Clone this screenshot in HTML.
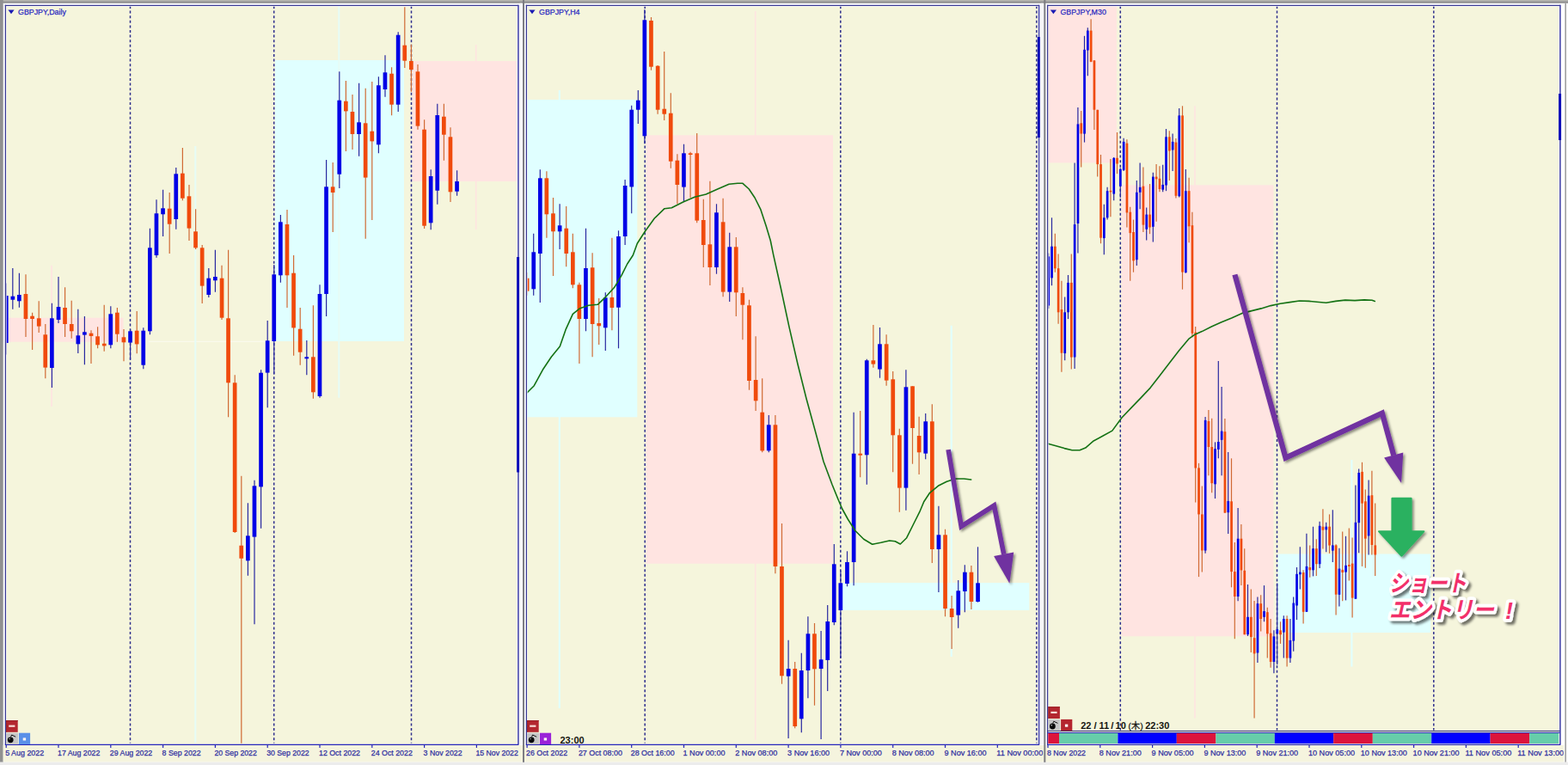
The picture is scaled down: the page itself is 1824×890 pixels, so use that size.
<!DOCTYPE html>
<html><head><meta charset="utf-8"><title>GBPJPY charts</title>
<style>
html,body{margin:0;padding:0;background:#fff;}
body{width:1824px;height:890px;overflow:hidden;}
svg{display:block;font-family:"Liberation Sans",sans-serif;}
</style></head><body>
<svg width="1824" height="890" viewBox="0 0 1824 890">
<rect x="0.0" y="0.0" width="1824.0" height="890.0" fill="#ffffff" />
<rect x="0.0" y="0.0" width="1824.0" height="1.3" fill="#b4b4ac" />
<rect x="0.0" y="1.3" width="1824.0" height="2.4" fill="#8c8c8c" />
<rect x="0.0" y="0.0" width="3.7" height="890.0" fill="#909090" />
<rect x="1820.4" y="3.7" width="1.6" height="886.3" fill="#a0a0a0" />
<rect x="0.0" y="886.5" width="1824.0" height="3.5" fill="#ececec" />
<rect x="3.7" y="867.0" width="1815.7" height="19.4" fill="#f5f4de" />
<rect x="604.4" y="3.7" width="3.0" height="862.7" fill="#f4f4f6" />
<rect x="608.0" y="0.0" width="2.0" height="886.8" fill="#7c7c82" />
<rect x="1210.7" y="3.7" width="3.0" height="862.7" fill="#f4f4f6" />
<rect x="1214.3" y="0.0" width="2.0" height="886.8" fill="#7c7c82" />
<rect x="6.4" y="6.4" width="596.2" height="860.6" fill="#f5f5dc" />
<rect x="612.4" y="6.4" width="595.9" height="860.6" fill="#f5f5dc" />
<rect x="1218.6" y="6.4" width="596.0" height="860.6" fill="#f5f5dc" />
<rect x="7.0" y="369.7" width="136.5" height="28.0" fill="#ffe4e1" />
<line x1="60.0" y1="308.7" x2="60.0" y2="473.0" stroke="#ffe4e1" stroke-width="1.6" />
<line x1="173.0" y1="397.3" x2="320.0" y2="397.3" stroke="#f9f9ec" stroke-width="1.2" />
<line x1="227.3" y1="170.0" x2="227.3" y2="864.0" stroke="#e6fcf6" stroke-width="2" />
<rect x="320.0" y="70.0" width="150.0" height="327.0" fill="#e0ffff" />
<line x1="394.3" y1="7.0" x2="394.3" y2="462.7" stroke="#e6fcf6" stroke-width="2" />
<rect x="479.5" y="71.0" width="122.5" height="140.0" fill="#ffe4e1" />
<line x1="553.7" y1="52.0" x2="553.7" y2="267.0" stroke="#ffe4e1" stroke-width="1.6" />
<rect x="613.0" y="116.0" width="128.3" height="369.3" fill="#e0ffff" />
<line x1="650.8" y1="105.0" x2="650.8" y2="824.0" stroke="#e0ffff" stroke-width="2" />
<rect x="751.3" y="157.3" width="217.7" height="498.4" fill="#ffe4e1" />
<line x1="878.7" y1="13.0" x2="878.7" y2="860.7" stroke="#ffe4e1" stroke-width="1.6" />
<rect x="979.7" y="678.0" width="217.6" height="32.0" fill="#e0ffff" />
<line x1="1106.7" y1="378.7" x2="1106.7" y2="764.0" stroke="#e0ffff" stroke-width="2" />
<rect x="1219.0" y="7.0" width="80.0" height="182.4" fill="#ffe4e1" />
<rect x="1304.6" y="215.3" width="176.8" height="525.0" fill="#ffe4e1" />
<line x1="1390.0" y1="123.3" x2="1390.0" y2="835.6" stroke="#ffe4e1" stroke-width="1.6" />
<rect x="1486.6" y="644.5" width="177.7" height="91.5" fill="#e0ffff" />
<line x1="1572.4" y1="535.0" x2="1572.4" y2="775.6" stroke="#e0ffff" stroke-width="2" />
<line x1="151.5" y1="7.0" x2="151.5" y2="864.5" stroke="#2c2c8c" stroke-width="1.5" stroke-dasharray="3.0 2.6"/>
<line x1="318.7" y1="7.0" x2="318.7" y2="864.5" stroke="#2c2c8c" stroke-width="1.5" stroke-dasharray="3.0 2.6"/>
<line x1="478.5" y1="7.0" x2="478.5" y2="864.5" stroke="#2c2c8c" stroke-width="1.5" stroke-dasharray="3.0 2.6"/>
<line x1="750.2" y1="7.0" x2="750.2" y2="864.5" stroke="#2c2c8c" stroke-width="1.5" stroke-dasharray="3.0 2.6"/>
<line x1="977.8" y1="7.0" x2="977.8" y2="864.5" stroke="#2c2c8c" stroke-width="1.5" stroke-dasharray="3.0 2.6"/>
<line x1="1205.8" y1="7.0" x2="1205.8" y2="864.5" stroke="#2c2c8c" stroke-width="1.5" stroke-dasharray="3.0 2.6"/>
<line x1="1303.3" y1="7.0" x2="1303.3" y2="849.5" stroke="#2c2c8c" stroke-width="1.5" stroke-dasharray="3.0 2.6"/>
<line x1="1485.5" y1="7.0" x2="1485.5" y2="849.5" stroke="#2c2c8c" stroke-width="1.5" stroke-dasharray="3.0 2.6"/>
<line x1="1667.8" y1="7.0" x2="1667.8" y2="849.5" stroke="#2c2c8c" stroke-width="1.5" stroke-dasharray="3.0 2.6"/>
<g>
<line x1="7.2" y1="329.4" x2="7.2" y2="412.6" stroke="#2828a0" stroke-width="1.2" />
<rect x="6.0" y="344.0" width="3.6" height="55.0" fill="#0000e6" />
<line x1="14.8" y1="312.0" x2="14.8" y2="359.7" stroke="#2828a0" stroke-width="1.2" />
<rect x="12.5" y="344.7" width="4.7" height="4.0" fill="#0000e6" />
<line x1="22.4" y1="317.7" x2="22.4" y2="357.7" stroke="#2828a0" stroke-width="1.2" />
<rect x="20.0" y="343.0" width="4.7" height="7.3" fill="#0000e6" />
<line x1="30.0" y1="319.3" x2="30.0" y2="392.0" stroke="#d06a34" stroke-width="1.2" />
<rect x="27.6" y="342.0" width="4.7" height="29.0" fill="#f04a0c" />
<line x1="37.6" y1="363.7" x2="37.6" y2="407.0" stroke="#d06a34" stroke-width="1.2" />
<rect x="35.2" y="367.7" width="4.7" height="3.3" fill="#f04a0c" />
<line x1="45.2" y1="350.3" x2="45.2" y2="387.0" stroke="#d06a34" stroke-width="1.2" />
<rect x="42.9" y="370.3" width="4.7" height="9.3" fill="#f04a0c" />
<line x1="52.8" y1="377.0" x2="52.8" y2="440.3" stroke="#d06a34" stroke-width="1.2" />
<rect x="50.4" y="389.3" width="4.7" height="38.3" fill="#f04a0c" />
<line x1="60.4" y1="352.7" x2="60.4" y2="451.0" stroke="#2828a0" stroke-width="1.2" />
<rect x="58.0" y="370.3" width="4.7" height="57.7" fill="#0000e6" />
<line x1="68.0" y1="322.0" x2="68.0" y2="376.0" stroke="#2828a0" stroke-width="1.2" />
<rect x="65.7" y="357.0" width="4.7" height="15.0" fill="#0000e6" />
<line x1="75.6" y1="334.3" x2="75.6" y2="392.0" stroke="#d06a34" stroke-width="1.2" />
<rect x="73.2" y="358.0" width="4.7" height="19.0" fill="#f04a0c" />
<line x1="83.2" y1="349.7" x2="83.2" y2="393.7" stroke="#d06a34" stroke-width="1.2" />
<rect x="80.9" y="377.0" width="4.7" height="8.3" fill="#f04a0c" />
<line x1="90.8" y1="359.7" x2="90.8" y2="411.0" stroke="#2828a0" stroke-width="1.2" />
<rect x="88.5" y="390.3" width="4.7" height="10.0" fill="#0000e6" />
<line x1="98.4" y1="368.0" x2="98.4" y2="424.3" stroke="#2828a0" stroke-width="1.2" />
<rect x="96.0" y="386.3" width="4.7" height="3.3" fill="#0000e6" />
<line x1="106.0" y1="384.3" x2="106.0" y2="423.0" stroke="#d06a34" stroke-width="1.2" />
<rect x="103.7" y="387.7" width="4.7" height="3.3" fill="#f04a0c" />
<line x1="113.6" y1="380.3" x2="113.6" y2="405.3" stroke="#d06a34" stroke-width="1.2" />
<rect x="111.2" y="391.3" width="4.7" height="10.0" fill="#f04a0c" />
<line x1="121.2" y1="354.7" x2="121.2" y2="408.7" stroke="#d06a34" stroke-width="1.2" />
<rect x="118.9" y="399.7" width="4.7" height="2.7" fill="#f04a0c" />
<line x1="128.8" y1="356.3" x2="128.8" y2="405.3" stroke="#2828a0" stroke-width="1.2" />
<rect x="126.4" y="365.3" width="4.7" height="36.0" fill="#0000e6" />
<line x1="136.4" y1="358.0" x2="136.4" y2="397.7" stroke="#d06a34" stroke-width="1.2" />
<rect x="134.0" y="363.7" width="4.7" height="25.0" fill="#f04a0c" />
<line x1="144.0" y1="383.0" x2="144.0" y2="420.3" stroke="#d06a34" stroke-width="1.2" />
<rect x="141.6" y="392.3" width="4.7" height="6.0" fill="#f04a0c" />
<line x1="151.6" y1="383.0" x2="151.6" y2="418.7" stroke="#2828a0" stroke-width="1.2" />
<rect x="149.2" y="385.3" width="4.7" height="13.3" fill="#0000e6" />
<line x1="159.2" y1="362.0" x2="159.2" y2="411.3" stroke="#d06a34" stroke-width="1.2" />
<rect x="156.8" y="384.7" width="4.7" height="15.7" fill="#f04a0c" />
<line x1="166.8" y1="381.3" x2="166.8" y2="429.3" stroke="#2828a0" stroke-width="1.2" />
<rect x="164.4" y="384.7" width="4.7" height="40.0" fill="#0000e6" />
<line x1="174.4" y1="265.7" x2="174.4" y2="389.3" stroke="#2828a0" stroke-width="1.2" />
<rect x="172.0" y="288.3" width="4.7" height="97.0" fill="#0000e6" />
<line x1="182.0" y1="232.3" x2="182.0" y2="299.7" stroke="#2828a0" stroke-width="1.2" />
<rect x="179.6" y="248.3" width="4.7" height="48.7" fill="#0000e6" />
<line x1="189.6" y1="220.7" x2="189.6" y2="275.0" stroke="#2828a0" stroke-width="1.2" />
<rect x="187.2" y="242.3" width="4.7" height="7.0" fill="#0000e6" />
<line x1="197.2" y1="224.0" x2="197.2" y2="295.0" stroke="#d06a34" stroke-width="1.2" />
<rect x="194.8" y="242.7" width="4.7" height="18.0" fill="#f04a0c" />
<line x1="204.8" y1="195.0" x2="204.8" y2="266.7" stroke="#2828a0" stroke-width="1.2" />
<rect x="202.4" y="202.3" width="4.7" height="52.7" fill="#0000e6" />
<line x1="212.4" y1="172.0" x2="212.4" y2="233.3" stroke="#d06a34" stroke-width="1.2" />
<rect x="210.0" y="201.7" width="4.7" height="29.0" fill="#f04a0c" />
<line x1="220.0" y1="215.0" x2="220.0" y2="280.0" stroke="#d06a34" stroke-width="1.2" />
<rect x="217.6" y="228.3" width="4.7" height="37.3" fill="#f04a0c" />
<line x1="227.6" y1="243.3" x2="227.6" y2="290.0" stroke="#d06a34" stroke-width="1.2" />
<rect x="225.2" y="269.3" width="4.7" height="19.0" fill="#f04a0c" />
<line x1="235.2" y1="285.0" x2="235.2" y2="353.0" stroke="#d06a34" stroke-width="1.2" />
<rect x="232.8" y="288.3" width="4.7" height="44.3" fill="#f04a0c" />
<line x1="242.8" y1="312.0" x2="242.8" y2="346.0" stroke="#2828a0" stroke-width="1.2" />
<rect x="240.4" y="323.7" width="4.7" height="19.3" fill="#0000e6" />
<line x1="250.4" y1="290.7" x2="250.4" y2="339.7" stroke="#2828a0" stroke-width="1.2" />
<rect x="248.0" y="322.0" width="4.7" height="4.3" fill="#0000e6" />
<line x1="258.0" y1="308.7" x2="258.0" y2="372.0" stroke="#d06a34" stroke-width="1.2" />
<rect x="255.7" y="323.7" width="4.7" height="46.0" fill="#f04a0c" />
<line x1="265.6" y1="290.7" x2="265.6" y2="485.3" stroke="#d06a34" stroke-width="1.2" />
<rect x="263.2" y="370.3" width="4.7" height="75.0" fill="#f04a0c" />
<line x1="273.2" y1="436.3" x2="273.2" y2="620.0" stroke="#d06a34" stroke-width="1.2" />
<rect x="270.8" y="445.3" width="4.7" height="173.7" fill="#f04a0c" />
<line x1="280.8" y1="553.7" x2="280.8" y2="864.7" stroke="#d06a34" stroke-width="1.2" />
<rect x="278.4" y="634.7" width="4.7" height="15.0" fill="#f04a0c" />
<line x1="288.4" y1="585.3" x2="288.4" y2="669.7" stroke="#2828a0" stroke-width="1.2" />
<rect x="286.0" y="623.3" width="4.7" height="29.0" fill="#0000e6" />
<line x1="296.0" y1="558.7" x2="296.0" y2="726.3" stroke="#2828a0" stroke-width="1.2" />
<rect x="293.6" y="565.3" width="4.7" height="59.3" fill="#0000e6" />
<line x1="303.6" y1="430.3" x2="303.6" y2="614.7" stroke="#2828a0" stroke-width="1.2" />
<rect x="301.2" y="433.7" width="4.7" height="132.7" fill="#0000e6" />
<line x1="311.2" y1="373.0" x2="311.2" y2="474.3" stroke="#2828a0" stroke-width="1.2" />
<rect x="308.8" y="396.3" width="4.7" height="37.3" fill="#0000e6" />
<line x1="318.8" y1="308.0" x2="318.8" y2="435.3" stroke="#2828a0" stroke-width="1.2" />
<rect x="316.4" y="319.3" width="4.7" height="77.7" fill="#0000e6" />
<line x1="326.4" y1="250.0" x2="326.4" y2="328.7" stroke="#2828a0" stroke-width="1.2" />
<rect x="324.0" y="258.3" width="4.7" height="62.0" fill="#0000e6" />
<line x1="334.0" y1="244.0" x2="334.0" y2="358.0" stroke="#d06a34" stroke-width="1.2" />
<rect x="331.6" y="261.0" width="4.7" height="59.3" fill="#f04a0c" />
<line x1="341.6" y1="297.0" x2="341.6" y2="413.7" stroke="#d06a34" stroke-width="1.2" />
<rect x="339.2" y="317.7" width="4.7" height="63.7" fill="#f04a0c" />
<line x1="349.2" y1="358.0" x2="349.2" y2="424.7" stroke="#d06a34" stroke-width="1.2" />
<rect x="346.8" y="382.7" width="4.7" height="27.0" fill="#f04a0c" />
<line x1="356.8" y1="396.0" x2="356.8" y2="436.3" stroke="#2828a0" stroke-width="1.2" />
<rect x="354.4" y="415.3" width="4.7" height="2.0" fill="#0000e6" />
<line x1="364.4" y1="355.3" x2="364.4" y2="463.7" stroke="#d06a34" stroke-width="1.2" />
<rect x="362.0" y="415.3" width="4.7" height="41.0" fill="#f04a0c" />
<line x1="372.0" y1="331.3" x2="372.0" y2="462.7" stroke="#2828a0" stroke-width="1.2" />
<rect x="369.6" y="342.0" width="4.7" height="119.0" fill="#0000e6" />
<line x1="379.6" y1="186.0" x2="379.6" y2="368.0" stroke="#2828a0" stroke-width="1.2" />
<rect x="377.2" y="217.3" width="4.7" height="124.7" fill="#0000e6" />
<line x1="387.2" y1="189.0" x2="387.2" y2="270.0" stroke="#d06a34" stroke-width="1.2" />
<rect x="384.8" y="217.3" width="4.7" height="6.7" fill="#f04a0c" />
<line x1="394.8" y1="83.3" x2="394.8" y2="219.0" stroke="#2828a0" stroke-width="1.2" />
<rect x="392.4" y="116.7" width="4.7" height="86.0" fill="#0000e6" />
<line x1="402.4" y1="94.0" x2="402.4" y2="176.0" stroke="#d06a34" stroke-width="1.2" />
<rect x="400.0" y="117.7" width="4.7" height="11.7" fill="#f04a0c" />
<line x1="410.0" y1="110.0" x2="410.0" y2="174.0" stroke="#d06a34" stroke-width="1.2" />
<rect x="407.6" y="130.0" width="4.7" height="26.0" fill="#f04a0c" />
<line x1="417.6" y1="96.7" x2="417.6" y2="181.7" stroke="#2828a0" stroke-width="1.2" />
<rect x="415.2" y="142.3" width="4.7" height="13.7" fill="#0000e6" />
<line x1="425.2" y1="102.7" x2="425.2" y2="277.7" stroke="#d06a34" stroke-width="1.2" />
<rect x="422.8" y="143.3" width="4.7" height="63.3" fill="#f04a0c" />
<line x1="432.8" y1="95.0" x2="432.8" y2="256.0" stroke="#d06a34" stroke-width="1.2" />
<rect x="430.4" y="152.7" width="4.7" height="11.7" fill="#f04a0c" />
<line x1="440.4" y1="89.3" x2="440.4" y2="178.3" stroke="#2828a0" stroke-width="1.2" />
<rect x="438.0" y="99.3" width="4.7" height="69.0" fill="#0000e6" />
<line x1="448.0" y1="64.3" x2="448.0" y2="112.7" stroke="#2828a0" stroke-width="1.2" />
<rect x="445.6" y="84.3" width="4.7" height="19.7" fill="#0000e6" />
<line x1="455.6" y1="78.3" x2="455.6" y2="134.3" stroke="#d06a34" stroke-width="1.2" />
<rect x="453.2" y="85.7" width="4.7" height="36.0" fill="#f04a0c" />
<line x1="463.2" y1="37.3" x2="463.2" y2="130.0" stroke="#2828a0" stroke-width="1.2" />
<rect x="460.8" y="40.7" width="4.7" height="81.0" fill="#0000e6" />
<line x1="470.8" y1="8.3" x2="470.8" y2="79.0" stroke="#d06a34" stroke-width="1.2" />
<rect x="468.4" y="52.7" width="4.7" height="18.0" fill="#f04a0c" />
<line x1="478.4" y1="51.7" x2="478.4" y2="106.7" stroke="#d06a34" stroke-width="1.2" />
<rect x="476.0" y="71.0" width="4.7" height="10.0" fill="#f04a0c" />
<line x1="486.0" y1="75.0" x2="486.0" y2="150.7" stroke="#d06a34" stroke-width="1.2" />
<rect x="483.6" y="83.3" width="4.7" height="63.3" fill="#f04a0c" />
<line x1="493.6" y1="139.3" x2="493.6" y2="266.0" stroke="#d06a34" stroke-width="1.2" />
<rect x="491.2" y="150.7" width="4.7" height="112.0" fill="#f04a0c" />
<line x1="501.2" y1="197.3" x2="501.2" y2="267.3" stroke="#2828a0" stroke-width="1.2" />
<rect x="498.8" y="205.0" width="4.7" height="54.3" fill="#0000e6" />
<line x1="508.8" y1="120.7" x2="508.8" y2="237.7" stroke="#2828a0" stroke-width="1.2" />
<rect x="506.4" y="134.0" width="4.7" height="87.7" fill="#0000e6" />
<line x1="516.4" y1="120.7" x2="516.4" y2="186.7" stroke="#d06a34" stroke-width="1.2" />
<rect x="514.0" y="135.7" width="4.7" height="21.0" fill="#f04a0c" />
<line x1="524.0" y1="148.3" x2="524.0" y2="235.0" stroke="#d06a34" stroke-width="1.2" />
<rect x="521.6" y="159.3" width="4.7" height="64.0" fill="#f04a0c" />
<line x1="531.6" y1="198.3" x2="531.6" y2="227.7" stroke="#2828a0" stroke-width="1.2" />
<rect x="529.2" y="211.0" width="4.7" height="11.7" fill="#0000e6" />
</g>
<g>
<line x1="613.1" y1="317.0" x2="613.1" y2="343.7" stroke="#d06a34" stroke-width="1.2" />
<rect x="612.0" y="323.7" width="3.5" height="15.0" fill="#f04a0c" />
<line x1="620.7" y1="271.7" x2="620.7" y2="343.7" stroke="#2828a0" stroke-width="1.2" />
<rect x="618.4" y="293.3" width="4.7" height="43.0" fill="#0000e6" />
<line x1="628.3" y1="197.3" x2="628.3" y2="352.0" stroke="#2828a0" stroke-width="1.2" />
<rect x="626.0" y="207.3" width="4.7" height="87.7" fill="#0000e6" />
<line x1="635.9" y1="199.3" x2="635.9" y2="276.7" stroke="#d06a34" stroke-width="1.2" />
<rect x="633.5" y="207.3" width="4.7" height="42.0" fill="#f04a0c" />
<line x1="643.5" y1="230.0" x2="643.5" y2="321.0" stroke="#d06a34" stroke-width="1.2" />
<rect x="641.1" y="248.3" width="4.7" height="21.0" fill="#f04a0c" />
<line x1="651.1" y1="237.3" x2="651.1" y2="290.0" stroke="#2828a0" stroke-width="1.2" />
<rect x="648.8" y="262.3" width="4.7" height="7.0" fill="#0000e6" />
<line x1="658.7" y1="240.0" x2="658.7" y2="310.3" stroke="#d06a34" stroke-width="1.2" />
<rect x="656.4" y="265.7" width="4.7" height="29.3" fill="#f04a0c" />
<line x1="666.3" y1="271.7" x2="666.3" y2="335.3" stroke="#d06a34" stroke-width="1.2" />
<rect x="664.0" y="293.3" width="4.7" height="38.0" fill="#f04a0c" />
<line x1="673.9" y1="328.7" x2="673.9" y2="423.0" stroke="#d06a34" stroke-width="1.2" />
<rect x="671.5" y="331.3" width="4.7" height="39.7" fill="#f04a0c" />
<line x1="681.5" y1="265.7" x2="681.5" y2="385.3" stroke="#2828a0" stroke-width="1.2" />
<rect x="679.1" y="312.0" width="4.7" height="59.0" fill="#0000e6" />
<line x1="689.1" y1="294.3" x2="689.1" y2="415.3" stroke="#d06a34" stroke-width="1.2" />
<rect x="686.8" y="311.3" width="4.7" height="65.7" fill="#f04a0c" />
<line x1="696.7" y1="347.0" x2="696.7" y2="401.0" stroke="#d06a34" stroke-width="1.2" />
<rect x="694.4" y="376.0" width="4.7" height="3.3" fill="#f04a0c" />
<line x1="704.3" y1="340.3" x2="704.3" y2="408.0" stroke="#2828a0" stroke-width="1.2" />
<rect x="701.9" y="346.3" width="4.7" height="35.0" fill="#0000e6" />
<line x1="711.9" y1="276.7" x2="711.9" y2="384.3" stroke="#d06a34" stroke-width="1.2" />
<rect x="709.5" y="346.0" width="4.7" height="12.0" fill="#f04a0c" />
<line x1="719.5" y1="268.3" x2="719.5" y2="405.3" stroke="#2828a0" stroke-width="1.2" />
<rect x="717.1" y="275.0" width="4.7" height="82.7" fill="#0000e6" />
<line x1="727.1" y1="209.0" x2="727.1" y2="285.0" stroke="#2828a0" stroke-width="1.2" />
<rect x="724.8" y="216.0" width="4.7" height="59.0" fill="#0000e6" />
<line x1="734.7" y1="122.7" x2="734.7" y2="248.3" stroke="#2828a0" stroke-width="1.2" />
<rect x="732.4" y="127.7" width="4.7" height="89.7" fill="#0000e6" />
<line x1="742.3" y1="105.0" x2="742.3" y2="144.0" stroke="#2828a0" stroke-width="1.2" />
<rect x="739.9" y="116.7" width="4.7" height="11.0" fill="#0000e6" />
<line x1="749.9" y1="11.0" x2="749.9" y2="167.3" stroke="#2828a0" stroke-width="1.2" />
<rect x="747.5" y="23.3" width="4.7" height="135.0" fill="#0000e6" />
<line x1="757.5" y1="20.0" x2="757.5" y2="81.7" stroke="#d06a34" stroke-width="1.2" />
<rect x="755.1" y="24.0" width="4.7" height="53.7" fill="#f04a0c" />
<line x1="765.1" y1="76.0" x2="765.1" y2="132.7" stroke="#d06a34" stroke-width="1.2" />
<rect x="762.8" y="76.7" width="4.7" height="51.0" fill="#f04a0c" />
<line x1="772.7" y1="60.0" x2="772.7" y2="140.0" stroke="#d06a34" stroke-width="1.2" />
<rect x="770.4" y="126.7" width="4.7" height="6.0" fill="#f04a0c" />
<line x1="780.3" y1="108.3" x2="780.3" y2="195.7" stroke="#d06a34" stroke-width="1.2" />
<rect x="777.9" y="131.7" width="4.7" height="56.0" fill="#f04a0c" />
<line x1="787.9" y1="179.3" x2="787.9" y2="237.3" stroke="#d06a34" stroke-width="1.2" />
<rect x="785.5" y="186.7" width="4.7" height="28.3" fill="#f04a0c" />
<line x1="795.5" y1="167.7" x2="795.5" y2="234.3" stroke="#2828a0" stroke-width="1.2" />
<rect x="793.1" y="178.3" width="4.7" height="39.3" fill="#0000e6" />
<line x1="803.1" y1="176.7" x2="803.1" y2="230.0" stroke="#d06a34" stroke-width="1.2" />
<rect x="800.8" y="178.3" width="4.7" height="1.7" fill="#f04a0c" />
<line x1="810.7" y1="155.0" x2="810.7" y2="259.3" stroke="#d06a34" stroke-width="1.2" />
<rect x="808.4" y="178.3" width="4.7" height="78.3" fill="#f04a0c" />
<line x1="818.3" y1="231.7" x2="818.3" y2="311.0" stroke="#d06a34" stroke-width="1.2" />
<rect x="815.9" y="256.0" width="4.7" height="29.0" fill="#f04a0c" />
<line x1="825.9" y1="210.7" x2="825.9" y2="332.0" stroke="#d06a34" stroke-width="1.2" />
<rect x="823.5" y="284.3" width="4.7" height="26.7" fill="#f04a0c" />
<line x1="833.5" y1="237.3" x2="833.5" y2="318.7" stroke="#2828a0" stroke-width="1.2" />
<rect x="831.1" y="247.3" width="4.7" height="63.7" fill="#0000e6" />
<line x1="841.1" y1="230.7" x2="841.1" y2="345.3" stroke="#d06a34" stroke-width="1.2" />
<rect x="838.8" y="258.3" width="4.7" height="81.3" fill="#f04a0c" />
<line x1="848.7" y1="270.7" x2="848.7" y2="351.0" stroke="#2828a0" stroke-width="1.2" />
<rect x="846.4" y="287.3" width="4.7" height="52.3" fill="#0000e6" />
<line x1="856.3" y1="276.0" x2="856.3" y2="368.0" stroke="#d06a34" stroke-width="1.2" />
<rect x="853.9" y="287.3" width="4.7" height="53.0" fill="#f04a0c" />
<line x1="863.9" y1="334.3" x2="863.9" y2="395.3" stroke="#d06a34" stroke-width="1.2" />
<rect x="861.5" y="341.0" width="4.7" height="13.7" fill="#f04a0c" />
<line x1="871.5" y1="348.7" x2="871.5" y2="453.7" stroke="#d06a34" stroke-width="1.2" />
<rect x="869.1" y="355.3" width="4.7" height="87.7" fill="#f04a0c" />
<line x1="879.1" y1="391.3" x2="879.1" y2="478.0" stroke="#d06a34" stroke-width="1.2" />
<rect x="876.8" y="442.0" width="4.7" height="24.3" fill="#f04a0c" />
<line x1="886.7" y1="440.3" x2="886.7" y2="526.3" stroke="#d06a34" stroke-width="1.2" />
<rect x="884.4" y="479.7" width="4.7" height="44.7" fill="#f04a0c" />
<line x1="894.3" y1="483.0" x2="894.3" y2="526.3" stroke="#2828a0" stroke-width="1.2" />
<rect x="891.9" y="494.3" width="4.7" height="30.0" fill="#0000e6" />
<line x1="901.9" y1="483.0" x2="901.9" y2="667.3" stroke="#d06a34" stroke-width="1.2" />
<rect x="899.6" y="494.3" width="4.7" height="164.7" fill="#f04a0c" />
<line x1="909.5" y1="609.0" x2="909.5" y2="795.7" stroke="#d06a34" stroke-width="1.2" />
<rect x="907.1" y="659.0" width="4.7" height="127.3" fill="#f04a0c" />
<line x1="917.1" y1="744.7" x2="917.1" y2="859.0" stroke="#2828a0" stroke-width="1.2" />
<rect x="914.8" y="778.0" width="4.7" height="8.7" fill="#0000e6" />
<line x1="924.7" y1="770.0" x2="924.7" y2="847.3" stroke="#d06a34" stroke-width="1.2" />
<rect x="922.4" y="778.0" width="4.7" height="67.0" fill="#f04a0c" />
<line x1="932.3" y1="759.7" x2="932.3" y2="852.3" stroke="#2828a0" stroke-width="1.2" />
<rect x="929.9" y="780.0" width="4.7" height="56.3" fill="#0000e6" />
<line x1="939.9" y1="717.3" x2="939.9" y2="812.3" stroke="#2828a0" stroke-width="1.2" />
<rect x="937.6" y="737.3" width="4.7" height="42.7" fill="#0000e6" />
<line x1="947.5" y1="725.0" x2="947.5" y2="820.7" stroke="#d06a34" stroke-width="1.2" />
<rect x="945.1" y="737.3" width="4.7" height="41.0" fill="#f04a0c" />
<line x1="955.1" y1="734.0" x2="955.1" y2="860.0" stroke="#2828a0" stroke-width="1.2" />
<rect x="952.8" y="767.3" width="4.7" height="10.7" fill="#0000e6" />
<line x1="962.7" y1="704.0" x2="962.7" y2="804.0" stroke="#2828a0" stroke-width="1.2" />
<rect x="960.4" y="723.0" width="4.7" height="45.0" fill="#0000e6" />
<line x1="970.3" y1="633.0" x2="970.3" y2="727.3" stroke="#2828a0" stroke-width="1.2" />
<rect x="967.9" y="656.3" width="4.7" height="67.7" fill="#0000e6" />
<line x1="977.9" y1="664.0" x2="977.9" y2="765.7" stroke="#2828a0" stroke-width="1.2" />
<rect x="975.5" y="678.3" width="4.7" height="31.7" fill="#0000e6" />
<line x1="985.5" y1="641.3" x2="985.5" y2="682.3" stroke="#2828a0" stroke-width="1.2" />
<rect x="983.1" y="654.0" width="4.7" height="25.0" fill="#0000e6" />
<line x1="993.1" y1="479.7" x2="993.1" y2="681.3" stroke="#2828a0" stroke-width="1.2" />
<rect x="990.8" y="527.7" width="4.7" height="126.3" fill="#0000e6" />
<line x1="1000.7" y1="478.0" x2="1000.7" y2="555.3" stroke="#d06a34" stroke-width="1.2" />
<rect x="998.4" y="527.7" width="4.7" height="2.0" fill="#f04a0c" />
<line x1="1008.3" y1="417.7" x2="1008.3" y2="563.7" stroke="#2828a0" stroke-width="1.2" />
<rect x="1005.9" y="419.3" width="4.7" height="110.0" fill="#0000e6" />
<line x1="1015.9" y1="378.0" x2="1015.9" y2="427.7" stroke="#d06a34" stroke-width="1.2" />
<rect x="1013.5" y="419.3" width="4.7" height="4.3" fill="#f04a0c" />
<line x1="1023.5" y1="381.0" x2="1023.5" y2="439.7" stroke="#2828a0" stroke-width="1.2" />
<rect x="1021.1" y="400.3" width="4.7" height="29.3" fill="#0000e6" />
<line x1="1031.1" y1="389.3" x2="1031.1" y2="448.7" stroke="#d06a34" stroke-width="1.2" />
<rect x="1028.8" y="400.3" width="4.7" height="42.3" fill="#f04a0c" />
<line x1="1038.7" y1="432.0" x2="1038.7" y2="549.3" stroke="#d06a34" stroke-width="1.2" />
<rect x="1036.4" y="441.3" width="4.7" height="65.0" fill="#f04a0c" />
<line x1="1046.3" y1="498.7" x2="1046.3" y2="595.7" stroke="#d06a34" stroke-width="1.2" />
<rect x="1044.0" y="506.3" width="4.7" height="61.3" fill="#f04a0c" />
<line x1="1053.9" y1="430.3" x2="1053.9" y2="593.7" stroke="#2828a0" stroke-width="1.2" />
<rect x="1051.6" y="450.3" width="4.7" height="117.3" fill="#0000e6" />
<line x1="1061.5" y1="449.3" x2="1061.5" y2="539.7" stroke="#d06a34" stroke-width="1.2" />
<rect x="1059.2" y="449.3" width="4.7" height="48.7" fill="#f04a0c" />
<line x1="1069.1" y1="484.7" x2="1069.1" y2="552.0" stroke="#d06a34" stroke-width="1.2" />
<rect x="1066.8" y="507.0" width="4.7" height="19.3" fill="#f04a0c" />
<line x1="1076.7" y1="481.0" x2="1076.7" y2="534.3" stroke="#2828a0" stroke-width="1.2" />
<rect x="1074.4" y="490.3" width="4.7" height="37.3" fill="#0000e6" />
<line x1="1084.3" y1="470.3" x2="1084.3" y2="655.0" stroke="#d06a34" stroke-width="1.2" />
<rect x="1082.0" y="490.3" width="4.7" height="148.7" fill="#f04a0c" />
<line x1="1091.9" y1="588.7" x2="1091.9" y2="689.0" stroke="#2828a0" stroke-width="1.2" />
<rect x="1089.6" y="622.3" width="4.7" height="16.7" fill="#0000e6" />
<line x1="1099.5" y1="615.7" x2="1099.5" y2="717.3" stroke="#d06a34" stroke-width="1.2" />
<rect x="1097.2" y="622.3" width="4.7" height="85.7" fill="#f04a0c" />
<line x1="1107.1" y1="693.0" x2="1107.1" y2="755.0" stroke="#d06a34" stroke-width="1.2" />
<rect x="1104.8" y="708.0" width="4.7" height="10.0" fill="#f04a0c" />
<line x1="1114.7" y1="675.0" x2="1114.7" y2="730.7" stroke="#2828a0" stroke-width="1.2" />
<rect x="1112.4" y="687.3" width="4.7" height="28.3" fill="#0000e6" />
<line x1="1122.3" y1="657.3" x2="1122.3" y2="712.3" stroke="#2828a0" stroke-width="1.2" />
<rect x="1120.0" y="665.7" width="4.7" height="22.3" fill="#0000e6" />
<line x1="1129.9" y1="658.0" x2="1129.9" y2="709.0" stroke="#d06a34" stroke-width="1.2" />
<rect x="1127.6" y="665.7" width="4.7" height="34.3" fill="#f04a0c" />
<line x1="1137.5" y1="636.3" x2="1137.5" y2="700.7" stroke="#2828a0" stroke-width="1.2" />
<rect x="1135.2" y="678.3" width="4.7" height="21.7" fill="#0000e6" />
</g>
<g>
<line x1="1219.7" y1="294.4" x2="1219.7" y2="358.9" stroke="#2828a0" stroke-width="1.2" />
<rect x="1218.4" y="298.4" width="2.7" height="57.1" fill="#0000e6" />
<line x1="1223.5" y1="253.3" x2="1223.5" y2="332.2" stroke="#2828a0" stroke-width="1.2" />
<rect x="1222.2" y="286.7" width="2.7" height="36.7" fill="#0000e6" />
<line x1="1227.3" y1="271.8" x2="1227.3" y2="316.7" stroke="#d06a34" stroke-width="1.2" />
<rect x="1226.0" y="286.7" width="2.7" height="25.6" fill="#f04a0c" />
<line x1="1231.1" y1="295.6" x2="1231.1" y2="376.7" stroke="#d06a34" stroke-width="1.2" />
<rect x="1229.8" y="312.2" width="2.7" height="51.1" fill="#f04a0c" />
<line x1="1234.9" y1="326.7" x2="1234.9" y2="432.7" stroke="#d06a34" stroke-width="1.2" />
<rect x="1233.6" y="360.0" width="2.7" height="50.7" fill="#f04a0c" />
<line x1="1238.7" y1="345.6" x2="1238.7" y2="419.3" stroke="#2828a0" stroke-width="1.2" />
<rect x="1237.4" y="363.3" width="2.7" height="47.8" fill="#0000e6" />
<line x1="1242.5" y1="320.0" x2="1242.5" y2="371.1" stroke="#2828a0" stroke-width="1.2" />
<rect x="1241.2" y="328.9" width="2.7" height="34.4" fill="#0000e6" />
<line x1="1246.3" y1="295.6" x2="1246.3" y2="429.6" stroke="#d06a34" stroke-width="1.2" />
<rect x="1245.0" y="328.9" width="2.7" height="86.7" fill="#f04a0c" />
<line x1="1250.1" y1="189.6" x2="1250.1" y2="428.9" stroke="#2828a0" stroke-width="1.2" />
<rect x="1248.8" y="261.1" width="2.7" height="154.4" fill="#0000e6" />
<line x1="1253.9" y1="125.1" x2="1253.9" y2="294.4" stroke="#2828a0" stroke-width="1.2" />
<rect x="1252.6" y="144.4" width="2.7" height="115.6" fill="#0000e6" />
<line x1="1257.7" y1="128.9" x2="1257.7" y2="194.4" stroke="#d06a34" stroke-width="1.2" />
<rect x="1256.4" y="143.3" width="2.7" height="12.2" fill="#f04a0c" />
<line x1="1261.5" y1="41.8" x2="1261.5" y2="165.6" stroke="#2828a0" stroke-width="1.2" />
<rect x="1260.2" y="57.8" width="2.7" height="97.8" fill="#0000e6" />
<line x1="1265.3" y1="32.2" x2="1265.3" y2="88.2" stroke="#2828a0" stroke-width="1.2" />
<rect x="1264.0" y="35.6" width="2.7" height="22.9" fill="#0000e6" />
<line x1="1269.1" y1="22.2" x2="1269.1" y2="72.2" stroke="#d06a34" stroke-width="1.2" />
<rect x="1267.8" y="35.6" width="2.7" height="36.2" fill="#f04a0c" />
<line x1="1272.9" y1="70.0" x2="1272.9" y2="151.1" stroke="#d06a34" stroke-width="1.2" />
<rect x="1271.6" y="70.4" width="2.7" height="57.3" fill="#f04a0c" />
<line x1="1276.7" y1="127.8" x2="1276.7" y2="205.6" stroke="#d06a34" stroke-width="1.2" />
<rect x="1275.4" y="127.8" width="2.7" height="63.3" fill="#f04a0c" />
<line x1="1280.5" y1="180.0" x2="1280.5" y2="283.3" stroke="#d06a34" stroke-width="1.2" />
<rect x="1279.2" y="191.1" width="2.7" height="85.6" fill="#f04a0c" />
<line x1="1284.3" y1="237.8" x2="1284.3" y2="296.2" stroke="#2828a0" stroke-width="1.2" />
<rect x="1283.0" y="253.3" width="2.7" height="23.8" fill="#0000e6" />
<line x1="1288.1" y1="217.8" x2="1288.1" y2="255.6" stroke="#2828a0" stroke-width="1.2" />
<rect x="1286.8" y="222.2" width="2.7" height="31.1" fill="#0000e6" />
<line x1="1291.9" y1="185.1" x2="1291.9" y2="252.2" stroke="#d06a34" stroke-width="1.2" />
<rect x="1290.6" y="221.8" width="2.7" height="1.6" fill="#f04a0c" />
<line x1="1295.7" y1="182.9" x2="1295.7" y2="233.3" stroke="#2828a0" stroke-width="1.2" />
<rect x="1294.4" y="183.8" width="2.7" height="41.8" fill="#0000e6" />
<line x1="1299.5" y1="154.0" x2="1299.5" y2="202.2" stroke="#d06a34" stroke-width="1.2" />
<rect x="1298.2" y="183.8" width="2.7" height="6.7" fill="#f04a0c" />
<line x1="1303.3" y1="195.6" x2="1303.3" y2="230.0" stroke="#2828a0" stroke-width="1.2" />
<rect x="1302.0" y="196.7" width="2.7" height="20.0" fill="#0000e6" />
<line x1="1307.1" y1="160.7" x2="1307.1" y2="198.9" stroke="#2828a0" stroke-width="1.2" />
<rect x="1305.8" y="164.9" width="2.7" height="32.9" fill="#0000e6" />
<line x1="1310.9" y1="162.2" x2="1310.9" y2="264.4" stroke="#d06a34" stroke-width="1.2" />
<rect x="1309.6" y="166.7" width="2.7" height="80.7" fill="#f04a0c" />
<line x1="1314.7" y1="240.7" x2="1314.7" y2="326.7" stroke="#d06a34" stroke-width="1.2" />
<rect x="1313.4" y="246.7" width="2.7" height="24.4" fill="#f04a0c" />
<line x1="1318.5" y1="255.6" x2="1318.5" y2="316.7" stroke="#d06a34" stroke-width="1.2" />
<rect x="1317.2" y="270.0" width="2.7" height="33.3" fill="#f04a0c" />
<line x1="1322.3" y1="210.0" x2="1322.3" y2="308.9" stroke="#2828a0" stroke-width="1.2" />
<rect x="1321.0" y="223.8" width="2.7" height="78.4" fill="#0000e6" />
<line x1="1326.1" y1="189.6" x2="1326.1" y2="243.3" stroke="#2828a0" stroke-width="1.2" />
<rect x="1324.8" y="217.8" width="2.7" height="6.0" fill="#0000e6" />
<line x1="1329.9" y1="194.4" x2="1329.9" y2="270.0" stroke="#d06a34" stroke-width="1.2" />
<rect x="1328.6" y="216.7" width="2.7" height="44.9" fill="#f04a0c" />
<line x1="1333.7" y1="241.6" x2="1333.7" y2="279.6" stroke="#2828a0" stroke-width="1.2" />
<rect x="1332.4" y="249.6" width="2.7" height="17.1" fill="#0000e6" />
<line x1="1337.5" y1="214.0" x2="1337.5" y2="272.2" stroke="#d06a34" stroke-width="1.2" />
<rect x="1336.2" y="249.6" width="2.7" height="14.9" fill="#f04a0c" />
<line x1="1341.3" y1="200.7" x2="1341.3" y2="281.6" stroke="#2828a0" stroke-width="1.2" />
<rect x="1340.0" y="205.6" width="2.7" height="58.2" fill="#0000e6" />
<line x1="1345.1" y1="191.1" x2="1345.1" y2="257.8" stroke="#d06a34" stroke-width="1.2" />
<rect x="1343.8" y="205.6" width="2.7" height="2.7" fill="#f04a0c" />
<line x1="1348.9" y1="193.3" x2="1348.9" y2="223.3" stroke="#d06a34" stroke-width="1.2" />
<rect x="1347.6" y="207.8" width="2.7" height="12.2" fill="#f04a0c" />
<line x1="1352.7" y1="191.8" x2="1352.7" y2="223.3" stroke="#2828a0" stroke-width="1.2" />
<rect x="1351.4" y="214.9" width="2.7" height="5.8" fill="#0000e6" />
<line x1="1356.5" y1="150.0" x2="1356.5" y2="222.2" stroke="#2828a0" stroke-width="1.2" />
<rect x="1355.2" y="159.3" width="2.7" height="56.2" fill="#0000e6" />
<line x1="1360.3" y1="152.2" x2="1360.3" y2="210.0" stroke="#d06a34" stroke-width="1.2" />
<rect x="1359.0" y="159.3" width="2.7" height="16.2" fill="#f04a0c" />
<line x1="1364.1" y1="155.6" x2="1364.1" y2="198.9" stroke="#2828a0" stroke-width="1.2" />
<rect x="1362.8" y="164.9" width="2.7" height="9.6" fill="#0000e6" />
<line x1="1367.9" y1="161.1" x2="1367.9" y2="230.4" stroke="#d06a34" stroke-width="1.2" />
<rect x="1366.6" y="165.6" width="2.7" height="62.2" fill="#f04a0c" />
<line x1="1371.7" y1="126.0" x2="1371.7" y2="229.6" stroke="#2828a0" stroke-width="1.2" />
<rect x="1370.4" y="134.4" width="2.7" height="93.8" fill="#0000e6" />
<line x1="1375.5" y1="123.3" x2="1375.5" y2="336.7" stroke="#d06a34" stroke-width="1.2" />
<rect x="1374.2" y="134.4" width="2.7" height="182.2" fill="#f04a0c" />
<line x1="1379.3" y1="197.1" x2="1379.3" y2="317.8" stroke="#2828a0" stroke-width="1.2" />
<rect x="1378.0" y="222.2" width="2.7" height="94.9" fill="#0000e6" />
<line x1="1383.1" y1="206.7" x2="1383.1" y2="282.2" stroke="#d06a34" stroke-width="1.2" />
<rect x="1381.8" y="222.2" width="2.7" height="41.1" fill="#f04a0c" />
<line x1="1386.9" y1="246.7" x2="1386.9" y2="392.2" stroke="#d06a34" stroke-width="1.2" />
<rect x="1385.6" y="262.2" width="2.7" height="125.6" fill="#f04a0c" />
<line x1="1390.7" y1="380.0" x2="1390.7" y2="584.4" stroke="#d06a34" stroke-width="1.2" />
<rect x="1389.4" y="386.7" width="2.7" height="157.8" fill="#f04a0c" />
<line x1="1394.5" y1="538.9" x2="1394.5" y2="671.1" stroke="#d06a34" stroke-width="1.2" />
<rect x="1393.2" y="544.4" width="2.7" height="54.0" fill="#f04a0c" />
<line x1="1398.3" y1="565.6" x2="1398.3" y2="665.6" stroke="#d06a34" stroke-width="1.2" />
<rect x="1397.0" y="598.4" width="2.7" height="42.0" fill="#f04a0c" />
<line x1="1402.1" y1="485.1" x2="1402.1" y2="643.8" stroke="#2828a0" stroke-width="1.2" />
<rect x="1400.8" y="488.9" width="2.7" height="151.6" fill="#0000e6" />
<line x1="1405.9" y1="477.1" x2="1405.9" y2="553.3" stroke="#d06a34" stroke-width="1.2" />
<rect x="1404.6" y="490.0" width="2.7" height="30.0" fill="#f04a0c" />
<line x1="1409.7" y1="486.7" x2="1409.7" y2="573.3" stroke="#d06a34" stroke-width="1.2" />
<rect x="1408.4" y="520.0" width="2.7" height="42.2" fill="#f04a0c" />
<line x1="1413.5" y1="514.4" x2="1413.5" y2="580.0" stroke="#2828a0" stroke-width="1.2" />
<rect x="1412.2" y="522.2" width="2.7" height="41.1" fill="#0000e6" />
<line x1="1417.3" y1="420.0" x2="1417.3" y2="533.3" stroke="#2828a0" stroke-width="1.2" />
<rect x="1416.0" y="514.0" width="2.7" height="8.9" fill="#0000e6" />
<line x1="1421.1" y1="450.0" x2="1421.1" y2="553.3" stroke="#2828a0" stroke-width="1.2" />
<rect x="1419.8" y="501.6" width="2.7" height="10.2" fill="#0000e6" />
<line x1="1424.9" y1="487.1" x2="1424.9" y2="596.7" stroke="#d06a34" stroke-width="1.2" />
<rect x="1423.6" y="502.2" width="2.7" height="94.4" fill="#f04a0c" />
<line x1="1428.7" y1="526.0" x2="1428.7" y2="621.1" stroke="#2828a0" stroke-width="1.2" />
<rect x="1427.4" y="582.9" width="2.7" height="13.3" fill="#0000e6" />
<line x1="1432.5" y1="533.3" x2="1432.5" y2="683.3" stroke="#d06a34" stroke-width="1.2" />
<rect x="1431.2" y="583.3" width="2.7" height="81.8" fill="#f04a0c" />
<line x1="1436.3" y1="631.1" x2="1436.3" y2="743.3" stroke="#d06a34" stroke-width="1.2" />
<rect x="1435.0" y="665.1" width="2.7" height="28.9" fill="#f04a0c" />
<line x1="1440.1" y1="591.1" x2="1440.1" y2="699.3" stroke="#2828a0" stroke-width="1.2" />
<rect x="1438.8" y="626.7" width="2.7" height="67.3" fill="#0000e6" />
<line x1="1443.9" y1="610.0" x2="1443.9" y2="681.1" stroke="#d06a34" stroke-width="1.2" />
<rect x="1442.6" y="626.7" width="2.7" height="36.7" fill="#f04a0c" />
<line x1="1447.7" y1="638.2" x2="1447.7" y2="738.2" stroke="#d06a34" stroke-width="1.2" />
<rect x="1446.4" y="663.8" width="2.7" height="74.4" fill="#f04a0c" />
<line x1="1451.5" y1="680.0" x2="1451.5" y2="740.0" stroke="#2828a0" stroke-width="1.2" />
<rect x="1450.2" y="717.8" width="2.7" height="20.4" fill="#0000e6" />
<line x1="1455.3" y1="685.6" x2="1455.3" y2="758.9" stroke="#d06a34" stroke-width="1.2" />
<rect x="1454.0" y="717.8" width="2.7" height="23.3" fill="#f04a0c" />
<line x1="1459.1" y1="698.9" x2="1459.1" y2="835.6" stroke="#d06a34" stroke-width="1.2" />
<rect x="1457.8" y="742.2" width="2.7" height="18.2" fill="#f04a0c" />
<line x1="1462.9" y1="694.4" x2="1462.9" y2="771.1" stroke="#2828a0" stroke-width="1.2" />
<rect x="1461.6" y="702.2" width="2.7" height="57.3" fill="#0000e6" />
<line x1="1466.7" y1="692.2" x2="1466.7" y2="734.4" stroke="#d06a34" stroke-width="1.2" />
<rect x="1465.4" y="702.2" width="2.7" height="17.8" fill="#f04a0c" />
<line x1="1470.5" y1="681.1" x2="1470.5" y2="723.3" stroke="#2828a0" stroke-width="1.2" />
<rect x="1469.2" y="711.1" width="2.7" height="6.7" fill="#0000e6" />
<line x1="1474.3" y1="706.7" x2="1474.3" y2="765.6" stroke="#d06a34" stroke-width="1.2" />
<rect x="1473.0" y="712.2" width="2.7" height="25.1" fill="#f04a0c" />
<line x1="1478.1" y1="720.0" x2="1478.1" y2="776.7" stroke="#d06a34" stroke-width="1.2" />
<rect x="1476.8" y="736.7" width="2.7" height="33.3" fill="#f04a0c" />
<line x1="1481.9" y1="733.3" x2="1481.9" y2="783.3" stroke="#2828a0" stroke-width="1.2" />
<rect x="1480.6" y="740.4" width="2.7" height="29.6" fill="#0000e6" />
<line x1="1485.7" y1="678.4" x2="1485.7" y2="773.3" stroke="#2828a0" stroke-width="1.2" />
<rect x="1484.4" y="732.2" width="2.7" height="5.1" fill="#0000e6" />
<line x1="1489.5" y1="723.3" x2="1489.5" y2="748.9" stroke="#d06a34" stroke-width="1.2" />
<rect x="1488.2" y="733.3" width="2.7" height="4.9" fill="#f04a0c" />
<line x1="1493.3" y1="716.2" x2="1493.3" y2="765.6" stroke="#2828a0" stroke-width="1.2" />
<rect x="1492.0" y="720.0" width="2.7" height="15.6" fill="#0000e6" />
<line x1="1497.1" y1="716.2" x2="1497.1" y2="775.6" stroke="#d06a34" stroke-width="1.2" />
<rect x="1495.8" y="720.0" width="2.7" height="45.6" fill="#f04a0c" />
<line x1="1500.9" y1="720.0" x2="1500.9" y2="771.1" stroke="#2828a0" stroke-width="1.2" />
<rect x="1499.6" y="744.9" width="2.7" height="20.7" fill="#0000e6" />
<line x1="1504.7" y1="694.4" x2="1504.7" y2="757.8" stroke="#2828a0" stroke-width="1.2" />
<rect x="1503.4" y="701.6" width="2.7" height="44.0" fill="#0000e6" />
<line x1="1508.5" y1="660.0" x2="1508.5" y2="721.1" stroke="#2828a0" stroke-width="1.2" />
<rect x="1507.2" y="667.8" width="2.7" height="36.7" fill="#0000e6" />
<line x1="1512.3" y1="636.2" x2="1512.3" y2="685.6" stroke="#2828a0" stroke-width="1.2" />
<rect x="1511.0" y="665.6" width="2.7" height="2.7" fill="#0000e6" />
<line x1="1516.1" y1="663.3" x2="1516.1" y2="725.6" stroke="#d06a34" stroke-width="1.2" />
<rect x="1514.8" y="666.0" width="2.7" height="45.8" fill="#f04a0c" />
<line x1="1519.9" y1="620.7" x2="1519.9" y2="711.8" stroke="#2828a0" stroke-width="1.2" />
<rect x="1518.6" y="658.9" width="2.7" height="52.9" fill="#0000e6" />
<line x1="1523.7" y1="634.4" x2="1523.7" y2="671.8" stroke="#d06a34" stroke-width="1.2" />
<rect x="1522.4" y="660.0" width="2.7" height="3.3" fill="#f04a0c" />
<line x1="1527.5" y1="612.7" x2="1527.5" y2="670.4" stroke="#2828a0" stroke-width="1.2" />
<rect x="1526.2" y="638.2" width="2.7" height="25.1" fill="#0000e6" />
<line x1="1531.3" y1="627.3" x2="1531.3" y2="670.0" stroke="#d06a34" stroke-width="1.2" />
<rect x="1530.0" y="638.2" width="2.7" height="18.0" fill="#f04a0c" />
<line x1="1535.1" y1="606.7" x2="1535.1" y2="661.1" stroke="#2828a0" stroke-width="1.2" />
<rect x="1533.8" y="611.8" width="2.7" height="44.4" fill="#0000e6" />
<line x1="1538.9" y1="592.2" x2="1538.9" y2="638.4" stroke="#d06a34" stroke-width="1.2" />
<rect x="1537.6" y="612.7" width="2.7" height="4.0" fill="#f04a0c" />
<line x1="1542.7" y1="607.8" x2="1542.7" y2="642.2" stroke="#2828a0" stroke-width="1.2" />
<rect x="1541.4" y="612.7" width="2.7" height="3.6" fill="#0000e6" />
<line x1="1546.5" y1="598.4" x2="1546.5" y2="643.8" stroke="#d06a34" stroke-width="1.2" />
<rect x="1545.2" y="612.7" width="2.7" height="21.8" fill="#f04a0c" />
<line x1="1550.3" y1="593.3" x2="1550.3" y2="654.0" stroke="#2828a0" stroke-width="1.2" />
<rect x="1549.0" y="634.4" width="2.7" height="6.2" fill="#0000e6" />
<line x1="1554.1" y1="633.3" x2="1554.1" y2="715.6" stroke="#d06a34" stroke-width="1.2" />
<rect x="1552.8" y="634.4" width="2.7" height="57.3" fill="#f04a0c" />
<line x1="1557.9" y1="637.8" x2="1557.9" y2="705.6" stroke="#2828a0" stroke-width="1.2" />
<rect x="1556.6" y="661.6" width="2.7" height="30.2" fill="#0000e6" />
<line x1="1561.7" y1="618.4" x2="1561.7" y2="699.3" stroke="#d06a34" stroke-width="1.2" />
<rect x="1560.4" y="662.9" width="2.7" height="3.1" fill="#f04a0c" />
<line x1="1565.5" y1="623.8" x2="1565.5" y2="698.4" stroke="#2828a0" stroke-width="1.2" />
<rect x="1564.2" y="657.8" width="2.7" height="7.8" fill="#0000e6" />
<line x1="1569.3" y1="614.4" x2="1569.3" y2="675.6" stroke="#d06a34" stroke-width="1.2" />
<rect x="1568.0" y="657.1" width="2.7" height="1.8" fill="#f04a0c" />
<line x1="1573.1" y1="625.6" x2="1573.1" y2="718.4" stroke="#d06a34" stroke-width="1.2" />
<rect x="1571.8" y="655.6" width="2.7" height="40.0" fill="#f04a0c" />
<line x1="1576.9" y1="564.4" x2="1576.9" y2="696.7" stroke="#2828a0" stroke-width="1.2" />
<rect x="1575.6" y="607.8" width="2.7" height="88.9" fill="#0000e6" />
<line x1="1580.7" y1="545.6" x2="1580.7" y2="643.3" stroke="#2828a0" stroke-width="1.2" />
<rect x="1579.4" y="550.0" width="2.7" height="58.2" fill="#0000e6" />
<line x1="1584.5" y1="537.8" x2="1584.5" y2="658.9" stroke="#d06a34" stroke-width="1.2" />
<rect x="1583.2" y="548.9" width="2.7" height="36.7" fill="#f04a0c" />
<line x1="1588.3" y1="569.6" x2="1588.3" y2="660.7" stroke="#d06a34" stroke-width="1.2" />
<rect x="1587.0" y="583.3" width="2.7" height="43.3" fill="#f04a0c" />
<line x1="1592.1" y1="558.4" x2="1592.1" y2="645.6" stroke="#2828a0" stroke-width="1.2" />
<rect x="1590.8" y="576.7" width="2.7" height="46.7" fill="#0000e6" />
<line x1="1595.9" y1="547.8" x2="1595.9" y2="645.6" stroke="#d06a34" stroke-width="1.2" />
<rect x="1594.6" y="576.2" width="2.7" height="57.8" fill="#f04a0c" />
<line x1="1599.7" y1="585.6" x2="1599.7" y2="670.0" stroke="#d06a34" stroke-width="1.2" />
<rect x="1598.4" y="634.4" width="2.7" height="11.1" fill="#f04a0c" />
</g>
<polyline points="613.0,457.0 621.3,448.7 631.3,430.3 641.3,415.3 651.3,403.0 658.0,383.7 666.3,365.3 674.7,358.7 684.7,355.3 695.3,354.3 704.7,345.3 714.7,334.3 723.0,320.3 729.7,307.0 736.3,297.0 741.3,283.3 750.3,269.3 761.3,254.0 773.0,242.7 781.3,241.7 794.7,235.0 808.0,229.3 821.3,226.0 834.7,220.0 848.0,214.3 858.0,213.3 864.0,213.3 871.3,220.0 878.0,230.0 884.7,243.3 891.3,263.3 896.3,280.0 899.7,296.7 908.0,333.7 918.0,380.3 928.0,423.7 938.0,463.7 948.0,500.3 958.0,537.0 968.0,563.7 974.7,580.3 979.7,592.0 986.3,604.0 994.7,617.3 1004.7,627.3 1014.7,633.3 1024.7,631.3 1034.7,629.0 1041.3,629.7 1047.3,633.0 1054.7,625.7 1063.0,609.0 1069.7,595.7 1074.7,583.7 1081.3,573.7 1091.3,565.3 1101.3,560.3 1111.3,557.0 1121.3,557.0 1129.7,558.0" fill="none" stroke="#147214" stroke-width="1.6" stroke-linejoin="round" stroke-linecap="round" />
<polyline points="1219.3,516.2 1229.3,518.9 1238.2,521.6 1247.1,523.8 1256.0,523.8 1262.7,521.1 1271.6,513.3 1282.7,507.3 1293.8,501.1 1304.9,486.0 1316.0,474.4 1327.1,462.9 1338.2,451.1 1349.3,436.7 1360.4,422.2 1371.6,407.8 1382.7,394.4 1389.3,389.6 1398.2,385.6 1409.3,380.0 1420.4,374.9 1432.7,370.0 1444.9,364.4 1456.0,361.6 1467.1,358.9 1478.2,355.6 1489.3,353.3 1500.4,351.6 1511.6,350.0 1522.7,350.4 1531.6,351.3 1542.7,352.2 1553.8,350.4 1564.9,349.1 1576.0,349.6 1587.1,348.9 1596.0,349.3 1599.3,350.4" fill="none" stroke="#147214" stroke-width="1.6" stroke-linejoin="round" stroke-linecap="round" />
<defs>
<filter id="sh" x="-20%" y="-20%" width="140%" height="140%"><feGaussianBlur in="SourceAlpha" stdDeviation="1.6"/><feOffset dx="2" dy="2"/><feComponentTransfer><feFuncA type="linear" slope="0.45"/></feComponentTransfer><feMerge><feMergeNode/><feMergeNode in="SourceGraphic"/></feMerge></filter>
<filter id="sh2" x="-20%" y="-20%" width="140%" height="140%"><feGaussianBlur in="SourceAlpha" stdDeviation="1.5"/><feOffset dx="2.6" dy="2.6"/><feComponentTransfer><feFuncA type="linear" slope="0.55"/></feComponentTransfer><feMerge><feMergeNode/><feMergeNode in="SourceGraphic"/></feMerge></filter>
</defs>
<g filter="url(#sh)"><polyline points="1436.4,319.5 1495.5,532.6 1607.8,480.6 1621.2,529.6" fill="none" stroke="#7030a0" stroke-width="6.2" stroke-linejoin="miter" stroke-linecap="butt"/>
<polygon points="1610.1,532.6 1632.3,526.6 1630.1,561.9" fill="#7030a0"/></g>
<g filter="url(#sh)"><polyline points="1103.1,523.1 1118.2,612.4 1156.4,588.1 1167.7,644.8" fill="none" stroke="#7030a0" stroke-width="5.6" stroke-linejoin="miter" stroke-linecap="butt"/>
<polygon points="1156.1,647.1 1179.2,642.5 1174.4,678.7" fill="#7030a0"/></g>
<g filter="url(#sh)"><path d="M1619.5 578.7 H1641.5 Q1642.6 578.7 1642.6 579.8 V617.2 H1656 Q1658.5 617.2 1656.8 619.2 L1631.6 647 Q1630.4 648.3 1629.2 647 L1603.6 619.2 Q1601.9 617.2 1604.4 617.2 H1618.4 V579.8 Q1618.4 578.7 1619.5 578.7 Z" fill="#2bb160"/></g>
<g filter="url(#sh2)"><g fill="#ffffff" stroke="#ffffff" stroke-width="7.6" stroke-linejoin="round" font-family="&quot;Liberation Sans&quot;, &quot;Noto Sans CJK JP&quot;, sans-serif" font-weight="bold" font-style="italic" font-size="27"><text x="1616" y="687.5" textLength="90" lengthAdjust="spacingAndGlyphs">ショート</text><text x="1616" y="718.5" textLength="122" lengthAdjust="spacingAndGlyphs">エントリー</text><text x="1751" y="720">!</text></g></g>
<g fill="#f2306a" font-family="&quot;Liberation Sans&quot;, &quot;Noto Sans CJK JP&quot;, sans-serif" font-weight="bold" font-style="italic" font-size="27"><text x="1616" y="687.5" textLength="90" lengthAdjust="spacingAndGlyphs">ショート</text><text x="1616" y="718.5" textLength="122" lengthAdjust="spacingAndGlyphs">エントリー</text><text x="1751" y="720">!</text></g>
<rect x="7.4" y="7.4" width="594.2" height="858.6" fill="none" stroke="#ffffff" stroke-width="0.9" stroke-opacity="0.8"/>
<line x1="6.4" y1="5.8" x2="6.4" y2="866.5" stroke="#3c3c96" stroke-width="1.3" />
<line x1="602.9" y1="5.8" x2="602.9" y2="866.5" stroke="#5a5ab4" stroke-width="1.8" />
<line x1="5.8" y1="6.4" x2="603.2" y2="6.4" stroke="#3c3c96" stroke-width="1.3" />
<line x1="5.8" y1="866.4" x2="603.2" y2="866.4" stroke="#2626b8" stroke-width="1.3" />
<rect x="613.4" y="7.4" width="593.9" height="858.6" fill="none" stroke="#ffffff" stroke-width="0.9" stroke-opacity="0.8"/>
<line x1="612.4" y1="5.8" x2="612.4" y2="866.5" stroke="#3c3c96" stroke-width="1.3" />
<line x1="1208.6" y1="5.8" x2="1208.6" y2="866.5" stroke="#5a5ab4" stroke-width="1.8" />
<line x1="611.8" y1="6.4" x2="1208.9" y2="6.4" stroke="#3c3c96" stroke-width="1.3" />
<line x1="611.8" y1="866.4" x2="1208.9" y2="866.4" stroke="#2626b8" stroke-width="1.3" />
<rect x="1219.6" y="7.4" width="594.0" height="858.6" fill="none" stroke="#ffffff" stroke-width="0.9" stroke-opacity="0.8"/>
<line x1="1218.6" y1="5.8" x2="1218.6" y2="866.5" stroke="#3c3c96" stroke-width="1.3" />
<line x1="1814.9" y1="5.8" x2="1814.9" y2="866.5" stroke="#5a5ab4" stroke-width="1.8" />
<line x1="1218.0" y1="6.4" x2="1815.2" y2="6.4" stroke="#3c3c96" stroke-width="1.3" />
<line x1="1218.0" y1="866.4" x2="1815.2" y2="866.4" stroke="#2626b8" stroke-width="1.3" />
<line x1="602.6" y1="299.0" x2="602.6" y2="549.5" stroke="#0c0cb8" stroke-width="3" />
<line x1="1208.3" y1="43.0" x2="1208.3" y2="160.0" stroke="#0c0cb8" stroke-width="3" />
<line x1="1814.6" y1="109.0" x2="1814.6" y2="163.0" stroke="#0c0cb8" stroke-width="3" />
<line x1="1218.6" y1="850.5" x2="1814.6" y2="850.5" stroke="#2a2a78" stroke-width="1.1" />
<line x1="1218.6" y1="852.5" x2="1814.6" y2="852.5" stroke="#2626b8" stroke-width="1.0" />
<rect x="1219.3" y="853.0" width="12.7" height="12.0" fill="#dc143c" />
<rect x="1232.0" y="853.0" width="68.4" height="12.0" fill="#66cdaa" />
<rect x="1300.4" y="853.0" width="68.4" height="12.0" fill="#0000ff" />
<rect x="1368.8" y="853.0" width="45.6" height="12.0" fill="#dc143c" />
<rect x="1414.4" y="853.0" width="68.4" height="12.0" fill="#66cdaa" />
<rect x="1482.8" y="853.0" width="68.4" height="12.0" fill="#0000ff" />
<rect x="1551.2" y="853.0" width="45.6" height="12.0" fill="#dc143c" />
<rect x="1596.8" y="853.0" width="68.4" height="12.0" fill="#66cdaa" />
<rect x="1665.2" y="853.0" width="68.4" height="12.0" fill="#0000ff" />
<rect x="1733.6" y="853.0" width="45.6" height="12.0" fill="#dc143c" />
<rect x="1779.2" y="853.0" width="34.0" height="12.0" fill="#66cdaa" />
<clipPath id="c1"><rect x="0" y="860" width="607.5" height="30"/></clipPath><g clip-path="url(#c1)">
<line x1="7.2" y1="866.4" x2="7.2" y2="870.0" stroke="#2626b8" stroke-width="1.2" />
<text x="6.2" y="878.9" font-size="9.6" fill="#2e2ea0" font-weight="normal" text-anchor="start" textLength="45.0" lengthAdjust="spacingAndGlyphs" stroke="#2e2ea0" stroke-width="0.25">5 Aug 2022</text>
<line x1="68.0" y1="866.4" x2="68.0" y2="870.0" stroke="#2626b8" stroke-width="1.2" />
<text x="67.0" y="878.9" font-size="9.6" fill="#2e2ea0" font-weight="normal" text-anchor="start" textLength="49.4" lengthAdjust="spacingAndGlyphs" stroke="#2e2ea0" stroke-width="0.25">17 Aug 2022</text>
<line x1="128.8" y1="866.4" x2="128.8" y2="870.0" stroke="#2626b8" stroke-width="1.2" />
<text x="127.8" y="878.9" font-size="9.6" fill="#2e2ea0" font-weight="normal" text-anchor="start" textLength="49.4" lengthAdjust="spacingAndGlyphs" stroke="#2e2ea0" stroke-width="0.25">29 Aug 2022</text>
<line x1="189.6" y1="866.4" x2="189.6" y2="870.0" stroke="#2626b8" stroke-width="1.2" />
<text x="188.6" y="878.9" font-size="9.6" fill="#2e2ea0" font-weight="normal" text-anchor="start" textLength="45.0" lengthAdjust="spacingAndGlyphs" stroke="#2e2ea0" stroke-width="0.25">8 Sep 2022</text>
<line x1="250.4" y1="866.4" x2="250.4" y2="870.0" stroke="#2626b8" stroke-width="1.2" />
<text x="249.4" y="878.9" font-size="9.6" fill="#2e2ea0" font-weight="normal" text-anchor="start" textLength="49.4" lengthAdjust="spacingAndGlyphs" stroke="#2e2ea0" stroke-width="0.25">20 Sep 2022</text>
<line x1="311.2" y1="866.4" x2="311.2" y2="870.0" stroke="#2626b8" stroke-width="1.2" />
<text x="310.2" y="878.9" font-size="9.6" fill="#2e2ea0" font-weight="normal" text-anchor="start" textLength="49.4" lengthAdjust="spacingAndGlyphs" stroke="#2e2ea0" stroke-width="0.25">30 Sep 2022</text>
<line x1="372.0" y1="866.4" x2="372.0" y2="870.0" stroke="#2626b8" stroke-width="1.2" />
<text x="371.0" y="878.9" font-size="9.6" fill="#2e2ea0" font-weight="normal" text-anchor="start" textLength="48.0" lengthAdjust="spacingAndGlyphs" stroke="#2e2ea0" stroke-width="0.25">12 Oct 2022</text>
<line x1="432.8" y1="866.4" x2="432.8" y2="870.0" stroke="#2626b8" stroke-width="1.2" />
<text x="431.8" y="878.9" font-size="9.6" fill="#2e2ea0" font-weight="normal" text-anchor="start" textLength="48.0" lengthAdjust="spacingAndGlyphs" stroke="#2e2ea0" stroke-width="0.25">24 Oct 2022</text>
<line x1="493.6" y1="866.4" x2="493.6" y2="870.0" stroke="#2626b8" stroke-width="1.2" />
<text x="492.6" y="878.9" font-size="9.6" fill="#2e2ea0" font-weight="normal" text-anchor="start" textLength="45.0" lengthAdjust="spacingAndGlyphs" stroke="#2e2ea0" stroke-width="0.25">3 Nov 2022</text>
<line x1="554.4" y1="866.4" x2="554.4" y2="870.0" stroke="#2626b8" stroke-width="1.2" />
<text x="553.4" y="878.9" font-size="9.6" fill="#2e2ea0" font-weight="normal" text-anchor="start" textLength="49.4" lengthAdjust="spacingAndGlyphs" stroke="#2e2ea0" stroke-width="0.25">15 Nov 2022</text>
</g>
<clipPath id="c2"><rect x="0" y="860" width="1213.5" height="30"/></clipPath><g clip-path="url(#c2)">
<line x1="613.1" y1="866.4" x2="613.1" y2="870.0" stroke="#2626b8" stroke-width="1.2" />
<text x="612.1" y="878.9" font-size="9.6" fill="#2e2ea0" font-weight="normal" text-anchor="start" textLength="48.0" lengthAdjust="spacingAndGlyphs" stroke="#2e2ea0" stroke-width="0.25">26 Oct 2022</text>
<line x1="673.9" y1="866.4" x2="673.9" y2="870.0" stroke="#2626b8" stroke-width="1.2" />
<text x="672.9" y="878.9" font-size="9.6" fill="#2e2ea0" font-weight="normal" text-anchor="start" textLength="51.0" lengthAdjust="spacingAndGlyphs" stroke="#2e2ea0" stroke-width="0.25">27 Oct 08:00</text>
<line x1="734.7" y1="866.4" x2="734.7" y2="870.0" stroke="#2626b8" stroke-width="1.2" />
<text x="733.7" y="878.9" font-size="9.6" fill="#2e2ea0" font-weight="normal" text-anchor="start" textLength="51.0" lengthAdjust="spacingAndGlyphs" stroke="#2e2ea0" stroke-width="0.25">28 Oct 16:00</text>
<line x1="795.5" y1="866.4" x2="795.5" y2="870.0" stroke="#2626b8" stroke-width="1.2" />
<text x="794.5" y="878.9" font-size="9.6" fill="#2e2ea0" font-weight="normal" text-anchor="start" textLength="49.0" lengthAdjust="spacingAndGlyphs" stroke="#2e2ea0" stroke-width="0.25">1 Nov 00:00</text>
<line x1="856.3" y1="866.4" x2="856.3" y2="870.0" stroke="#2626b8" stroke-width="1.2" />
<text x="855.3" y="878.9" font-size="9.6" fill="#2e2ea0" font-weight="normal" text-anchor="start" textLength="49.0" lengthAdjust="spacingAndGlyphs" stroke="#2e2ea0" stroke-width="0.25">2 Nov 08:00</text>
<line x1="917.1" y1="866.4" x2="917.1" y2="870.0" stroke="#2626b8" stroke-width="1.2" />
<text x="916.1" y="878.9" font-size="9.6" fill="#2e2ea0" font-weight="normal" text-anchor="start" textLength="49.0" lengthAdjust="spacingAndGlyphs" stroke="#2e2ea0" stroke-width="0.25">3 Nov 16:00</text>
<line x1="977.9" y1="866.4" x2="977.9" y2="870.0" stroke="#2626b8" stroke-width="1.2" />
<text x="976.9" y="878.9" font-size="9.6" fill="#2e2ea0" font-weight="normal" text-anchor="start" textLength="49.0" lengthAdjust="spacingAndGlyphs" stroke="#2e2ea0" stroke-width="0.25">7 Nov 00:00</text>
<line x1="1038.7" y1="866.4" x2="1038.7" y2="870.0" stroke="#2626b8" stroke-width="1.2" />
<text x="1037.7" y="878.9" font-size="9.6" fill="#2e2ea0" font-weight="normal" text-anchor="start" textLength="49.0" lengthAdjust="spacingAndGlyphs" stroke="#2e2ea0" stroke-width="0.25">8 Nov 08:00</text>
<line x1="1099.5" y1="866.4" x2="1099.5" y2="870.0" stroke="#2626b8" stroke-width="1.2" />
<text x="1098.5" y="878.9" font-size="9.6" fill="#2e2ea0" font-weight="normal" text-anchor="start" textLength="49.0" lengthAdjust="spacingAndGlyphs" stroke="#2e2ea0" stroke-width="0.25">9 Nov 16:00</text>
<line x1="1160.3" y1="866.4" x2="1160.3" y2="870.0" stroke="#2626b8" stroke-width="1.2" />
<text x="1159.3" y="878.9" font-size="9.6" fill="#2e2ea0" font-weight="normal" text-anchor="start" textLength="54.0" lengthAdjust="spacingAndGlyphs" stroke="#2e2ea0" stroke-width="0.25">11 Nov 00:00</text>
</g>
<clipPath id="c3"><rect x="0" y="860" width="1818.8" height="30"/></clipPath><g clip-path="url(#c3)">
<line x1="1219.0" y1="866.4" x2="1219.0" y2="870.0" stroke="#2626b8" stroke-width="1.2" />
<text x="1218.0" y="878.9" font-size="9.6" fill="#2e2ea0" font-weight="normal" text-anchor="start" textLength="45.0" lengthAdjust="spacingAndGlyphs" stroke="#2e2ea0" stroke-width="0.25">8 Nov 2022</text>
<line x1="1279.8" y1="866.4" x2="1279.8" y2="870.0" stroke="#2626b8" stroke-width="1.2" />
<text x="1278.8" y="878.9" font-size="9.6" fill="#2e2ea0" font-weight="normal" text-anchor="start" textLength="49.0" lengthAdjust="spacingAndGlyphs" stroke="#2e2ea0" stroke-width="0.25">8 Nov 21:00</text>
<line x1="1340.6" y1="866.4" x2="1340.6" y2="870.0" stroke="#2626b8" stroke-width="1.2" />
<text x="1339.6" y="878.9" font-size="9.6" fill="#2e2ea0" font-weight="normal" text-anchor="start" textLength="49.0" lengthAdjust="spacingAndGlyphs" stroke="#2e2ea0" stroke-width="0.25">9 Nov 05:00</text>
<line x1="1401.4" y1="866.4" x2="1401.4" y2="870.0" stroke="#2626b8" stroke-width="1.2" />
<text x="1400.4" y="878.9" font-size="9.6" fill="#2e2ea0" font-weight="normal" text-anchor="start" textLength="49.0" lengthAdjust="spacingAndGlyphs" stroke="#2e2ea0" stroke-width="0.25">9 Nov 13:00</text>
<line x1="1462.2" y1="866.4" x2="1462.2" y2="870.0" stroke="#2626b8" stroke-width="1.2" />
<text x="1461.2" y="878.9" font-size="9.6" fill="#2e2ea0" font-weight="normal" text-anchor="start" textLength="49.0" lengthAdjust="spacingAndGlyphs" stroke="#2e2ea0" stroke-width="0.25">9 Nov 21:00</text>
<line x1="1523.0" y1="866.4" x2="1523.0" y2="870.0" stroke="#2626b8" stroke-width="1.2" />
<text x="1522.0" y="878.9" font-size="9.6" fill="#2e2ea0" font-weight="normal" text-anchor="start" textLength="54.0" lengthAdjust="spacingAndGlyphs" stroke="#2e2ea0" stroke-width="0.25">10 Nov 05:00</text>
<line x1="1583.8" y1="866.4" x2="1583.8" y2="870.0" stroke="#2626b8" stroke-width="1.2" />
<text x="1582.8" y="878.9" font-size="9.6" fill="#2e2ea0" font-weight="normal" text-anchor="start" textLength="54.0" lengthAdjust="spacingAndGlyphs" stroke="#2e2ea0" stroke-width="0.25">10 Nov 13:00</text>
<line x1="1644.6" y1="866.4" x2="1644.6" y2="870.0" stroke="#2626b8" stroke-width="1.2" />
<text x="1643.6" y="878.9" font-size="9.6" fill="#2e2ea0" font-weight="normal" text-anchor="start" textLength="54.0" lengthAdjust="spacingAndGlyphs" stroke="#2e2ea0" stroke-width="0.25">10 Nov 21:00</text>
<line x1="1705.4" y1="866.4" x2="1705.4" y2="870.0" stroke="#2626b8" stroke-width="1.2" />
<text x="1704.4" y="878.9" font-size="9.6" fill="#2e2ea0" font-weight="normal" text-anchor="start" textLength="54.0" lengthAdjust="spacingAndGlyphs" stroke="#2e2ea0" stroke-width="0.25">11 Nov 05:00</text>
<line x1="1766.2" y1="866.4" x2="1766.2" y2="870.0" stroke="#2626b8" stroke-width="1.2" />
<text x="1765.2" y="878.9" font-size="9.6" fill="#2e2ea0" font-weight="normal" text-anchor="start" textLength="54.0" lengthAdjust="spacingAndGlyphs" stroke="#2e2ea0" stroke-width="0.25">11 Nov 13:00</text>
</g>
<polygon points="9.4,11.6 16.6,11.6 13.0,16.2" fill="#1a1ab4"/>
<text x="21.0" y="17.0" font-size="8.85" fill="#2a2ac0" font-weight="normal" text-anchor="start" stroke="#2a2ac0" stroke-width="0.25">GBPJPY,Daily</text>
<polygon points="615.4,11.6 622.6,11.6 619.0,16.2" fill="#1a1ab4"/>
<text x="627.0" y="17.0" font-size="8.85" fill="#2a2ac0" font-weight="normal" text-anchor="start" stroke="#2a2ac0" stroke-width="0.25">GBPJPY,H4</text>
<polygon points="1221.8,11.6 1229.0,11.6 1225.4,16.2" fill="#1a1ab4"/>
<text x="1233.4" y="17.0" font-size="8.85" fill="#2a2ac0" font-weight="normal" text-anchor="start" stroke="#2a2ac0" stroke-width="0.25">GBPJPY,M30</text>
<rect x="7.2" y="838.0" width="13.5" height="13.8" fill="#b3272f" />
<rect x="7.2" y="838.0" width="13.5" height="1.0" fill="#9a1e26" />
<rect x="7.2" y="838.0" width="1.0" height="13.8" fill="#9a1e26" />
<rect x="10.2" y="843.6" width="7.2" height="2.2" fill="#f8dcd6" />
<rect x="7.2" y="852.7" width="13.8" height="13.3" fill="#c6c6c6" />
<circle cx="12.2" cy="860.8" r="3.4" fill="#080808"/>
<path d="M12.5 857.4 L13.6 855.0 L18.2 857.2" stroke="#101010" stroke-width="1.0" fill="none" stroke-linejoin="round"/>
<circle cx="11.1" cy="859.6" r="0.7" fill="#d8d8d8"/>
<rect x="21.9" y="852.7" width="13.2" height="13.3" fill="#5a90e8" />
<rect x="26.7" y="858.4" width="3.4" height="3.1" fill="#fdf4f4" />
<rect x="613.2" y="838.0" width="13.5" height="13.8" fill="#b3272f" />
<rect x="613.2" y="838.0" width="13.5" height="1.0" fill="#9a1e26" />
<rect x="613.2" y="838.0" width="1.0" height="13.8" fill="#9a1e26" />
<rect x="616.2" y="843.6" width="7.2" height="2.2" fill="#f8dcd6" />
<rect x="613.2" y="852.7" width="13.8" height="13.3" fill="#c6c6c6" />
<circle cx="618.2" cy="860.8" r="3.4" fill="#080808"/>
<path d="M618.5 857.4 L619.6 855.0 L624.2 857.2" stroke="#101010" stroke-width="1.0" fill="none" stroke-linejoin="round"/>
<circle cx="617.1" cy="859.6" r="0.7" fill="#d8d8d8"/>
<rect x="627.9" y="852.7" width="13.2" height="13.3" fill="#9a22d8" />
<rect x="632.7" y="858.4" width="3.4" height="3.1" fill="#fdf4f4" />
<rect x="1219.4" y="822.2" width="13.5" height="13.8" fill="#b3272f" />
<rect x="1219.4" y="822.2" width="13.5" height="1.0" fill="#9a1e26" />
<rect x="1219.4" y="822.2" width="1.0" height="13.8" fill="#9a1e26" />
<rect x="1222.4" y="827.8" width="7.2" height="2.2" fill="#f8dcd6" />
<rect x="1219.4" y="836.9" width="13.8" height="13.3" fill="#c6c6c6" />
<circle cx="1224.4" cy="845.0" r="3.4" fill="#080808"/>
<path d="M1224.7 841.6 L1225.8 839.2 L1230.4 841.4" stroke="#101010" stroke-width="1.0" fill="none" stroke-linejoin="round"/>
<circle cx="1223.3" cy="843.8" r="0.7" fill="#d8d8d8"/>
<rect x="1234.1" y="836.9" width="13.2" height="13.3" fill="#b4242e" />
<rect x="1238.9" y="842.6" width="3.4" height="3.1" fill="#fdf4f4" />
<text x="651.5" y="864.5" font-size="11" fill="#151510" font-weight="bold" text-anchor="start">23:00</text>
<text x="1257.2" y="848.4" font-size="11" fill="#151510" font-weight="bold" text-anchor="start">22</text>
<text x="1274.1" y="848.4" font-size="11.5" fill="#151510" font-weight="bold" text-anchor="middle">/</text>
<text x="1278.5" y="848.4" font-size="11" fill="#151510" font-weight="bold" text-anchor="start">11</text>
<text x="1293.9" y="848.4" font-size="11.5" fill="#151510" font-weight="bold" text-anchor="middle">/</text>
<text x="1297.6" y="848.4" font-size="11" fill="#151510" font-weight="bold" text-anchor="start">10</text>
<text x="1312.6" y="847.8" font-size="9.5" fill="#151510" font-weight="normal" text-anchor="start" stroke="#151510" stroke-width="0.3">(</text>
<text x="1326.4" y="847.8" font-size="9.5" fill="#151510" font-weight="normal" text-anchor="start" stroke="#151510" stroke-width="0.3">)</text>
<text x="1315.9" y="848.2" font-size="10" fill="#151510" font-weight="normal" text-anchor="start" stroke="#151510" stroke-width="0.35" font-family="&quot;Liberation Sans&quot;, &quot;Noto Sans CJK JP&quot;, sans-serif">木</text>
<text x="1332.2" y="848.4" font-size="11" fill="#151510" font-weight="bold" text-anchor="start">22:30</text>
</svg>
</body></html>
